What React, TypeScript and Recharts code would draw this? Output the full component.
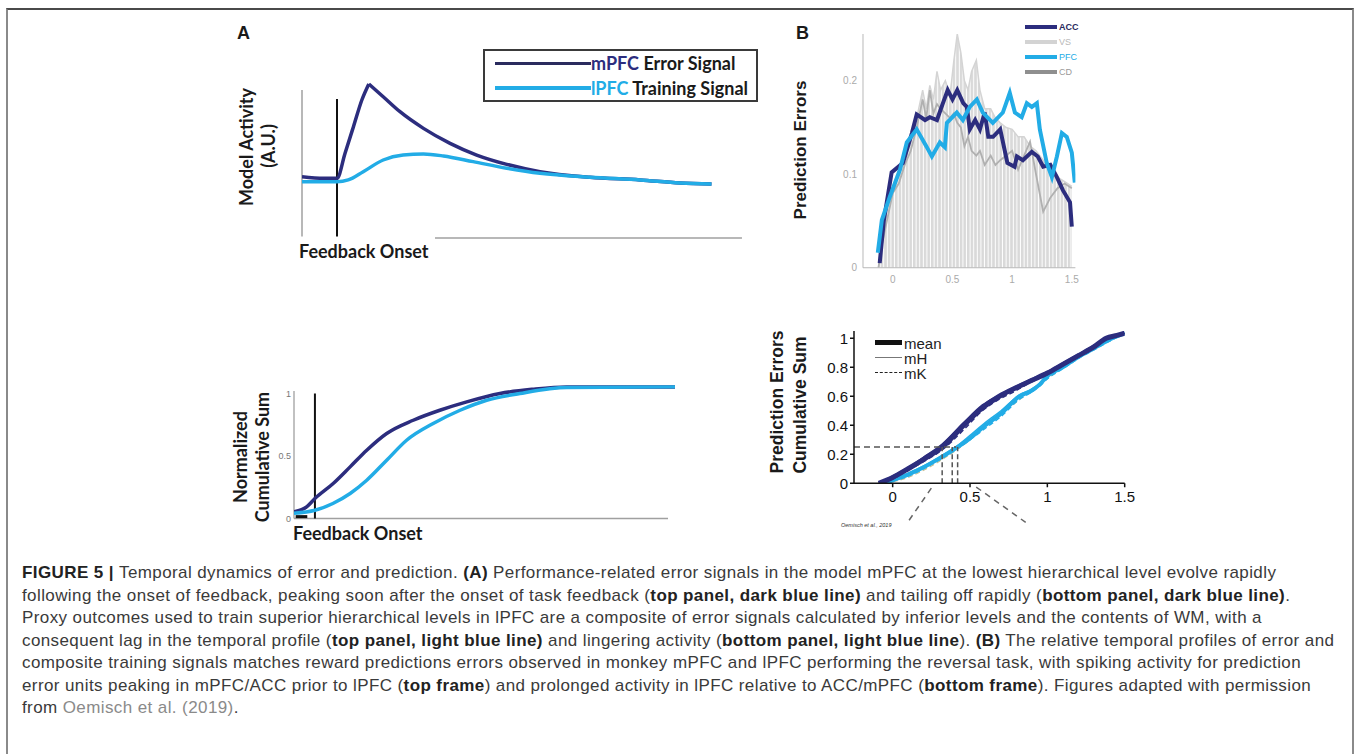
import React from 'react';
import { LineChart, ComposedChart, Line, Area, XAxis, YAxis, ReferenceLine } from 'recharts';

const NAVY = '#2c2d7e';
const SKY = '#22ace6';

// ---------- Panel A (top): model activity ----------
const A_TOP_MPFC_X = [-1, -0.38, 0, 0.23, 0.47, 0.71, 0.91, 1.32, 1.8, 2.47, 3.23, 3.99, 4.85, 5.8, 7.23, 8.66, 9.8, 10.7];
const A_TOP_MPFC = [0.409, 0.398, 0.398, 0.565, 0.742, 0.92, 1.027, 0.942, 0.842, 0.731, 0.631, 0.553, 0.491, 0.442, 0.405, 0.387, 0.367, 0.36];
const A_TOP_LPFC_X = [-1, 0, 0.32, 0.75, 1.32, 1.89, 2.47, 3.04, 3.89, 4.85, 5.8, 7.23, 8.66, 9.8, 10.7];
const A_TOP_LPFC = [0.375, 0.375, 0.387, 0.442, 0.52, 0.553, 0.56, 0.547, 0.509, 0.465, 0.431, 0.405, 0.387, 0.367, 0.36];

// ---------- Panel A (bottom): normalized cumulative sum ----------
const A_BOT_MPFC_X = [-0.6, -0.22, 0.03, 0.58, 1.09, 1.59, 2.19, 2.99, 3.79, 4.6, 5.6, 6.59, 7.61, 10.87];
const A_BOT_MPFC = [0.053, 0.093, 0.16, 0.28, 0.413, 0.546, 0.68, 0.786, 0.866, 0.933, 1.0, 1.034, 1.053, 1.053];
const A_BOT_LPFC_X = [-0.6, 0.03, 0.57, 1.09, 1.59, 2.19, 2.79, 3.59, 4.4, 5.2, 6.2, 7.61, 10.87];
const A_BOT_LPFC = [0.042, 0.066, 0.12, 0.2, 0.306, 0.466, 0.626, 0.76, 0.866, 0.946, 1.0, 1.048, 1.053];
const A_BOT_TICKS = [0, 0.5, 1];

// ---------- Panel B (top): prediction errors ----------
const B_TIME = [-0.12, -0.1, -0.05, 0, 0.05, 0.1, 0.15, 0.2, 0.25, 0.28, 0.31, 0.34, 0.37, 0.4, 0.44, 0.48, 0.51, 0.54, 0.57, 0.6, 0.63, 0.66, 0.7, 0.73, 0.77, 0.82, 0.86, 0.9, 0.95, 1.0, 1.05, 1.1, 1.15, 1.2, 1.26, 1.32, 1.38, 1.44, 1.5];
const B_VS = [0, 0.03, 0.06, 0.085, 0.1, 0.12, 0.14, 0.16, 0.19, 0.17, 0.195, 0.18, 0.21, 0.19, 0.2, 0.185, 0.22, 0.25, 0.23, 0.2, 0.19, 0.21, 0.222, 0.19, 0.17, 0.17, 0.16, 0.155, 0.15, 0.148, 0.14, 0.14, 0.13, 0.125, 0.115, 0.1, 0.097, 0.092, 0.087];
const B_CD = [0, 0.02, 0.05, 0.08, 0.09, 0.11, 0.125, 0.15, 0.18, 0.16, 0.19, 0.165, 0.175, 0.17, 0.165, 0.16, 0.165, 0.155, 0.15, 0.13, 0.14, 0.125, 0.12, 0.125, 0.11, 0.12, 0.11, 0.115, 0.12, 0.125, 0.105, 0.12, 0.135, 0.1, 0.06, 0.075, 0.085, 0.09, 0.085];
const B_ACC_X = [-0.11, -0.075, -0.01, 0.084, 0.16, 0.2, 0.27, 0.31, 0.37, 0.42, 0.46, 0.5, 0.54, 0.59, 0.62, 0.645, 0.69, 0.73, 0.77, 0.8, 0.84, 0.9, 0.96, 1.02, 1.04, 1.09, 1.165, 1.215, 1.26, 1.32, 1.375, 1.425, 1.485, 1.5];
const B_ACC = [0.005, 0.051, 0.102, 0.112, 0.144, 0.164, 0.158, 0.161, 0.158, 0.176, 0.19, 0.18, 0.19, 0.176, 0.172, 0.148, 0.158, 0.148, 0.166, 0.14, 0.14, 0.148, 0.112, 0.108, 0.119, 0.115, 0.124, 0.119, 0.108, 0.11, 0.097, 0.083, 0.07, 0.044];
const B_PFC_X = [-0.126, -0.092, -0.025, 0.06, 0.117, 0.2, 0.285, 0.327, 0.394, 0.436, 0.453, 0.536, 0.587, 0.645, 0.704, 0.754, 0.838, 0.922, 0.98, 1.023, 1.08, 1.123, 1.165, 1.207, 1.232, 1.29, 1.333, 1.375, 1.417, 1.458, 1.5, 1.525];
const B_PFC = [0.016, 0.051, 0.076, 0.105, 0.134, 0.148, 0.129, 0.119, 0.134, 0.129, 0.155, 0.166, 0.158, 0.172, 0.18, 0.166, 0.155, 0.166, 0.187, 0.166, 0.161, 0.176, 0.172, 0.176, 0.148, 0.112, 0.097, 0.119, 0.144, 0.14, 0.123, 0.091];
const B_TOP_XTICKS = [0, 0.5, 1, 1.5];
const B_TOP_YTICKS = [0, 0.1, 0.2];

// ---------- Panel B (bottom): cumulative prediction errors ----------
const B_ACC_CUM_X = [-0.09, 0, 0.1, 0.2, 0.32, 0.46, 0.58, 0.69, 0.8, 0.9, 1.0, 1.1, 1.2, 1.3, 1.38, 1.45, 1.5];
const B_ACC_CUM = [0, 0.04, 0.1, 0.165, 0.25, 0.4, 0.52, 0.6, 0.66, 0.71, 0.76, 0.82, 0.88, 0.94, 1.0, 1.02, 1.035];
const B_ACC_CUM_MH = [0, 0.05, 0.11, 0.18, 0.27, 0.42, 0.54, 0.61, 0.67, 0.72, 0.77, 0.83, 0.89, 0.95, 1.0, 1.02, 1.035];
const B_ACC_CUM_MK = [0, 0.03, 0.09, 0.15, 0.23, 0.37, 0.5, 0.58, 0.64, 0.7, 0.75, 0.81, 0.87, 0.93, 0.99, 1.02, 1.035];
const B_PFC_CUM_X = [-0.05, 0, 0.1, 0.2, 0.3, 0.42, 0.5, 0.6, 0.7, 0.82, 0.9, 0.95, 1.0, 1.1, 1.2, 1.3, 1.42, 1.5];
const B_PFC_CUM = [0, 0.02, 0.06, 0.11, 0.17, 0.25, 0.31, 0.4, 0.48, 0.6, 0.64, 0.68, 0.74, 0.8, 0.87, 0.93, 1.0, 1.035];
const B_PFC_CUM_MH = [0, 0.025, 0.07, 0.12, 0.18, 0.26, 0.33, 0.42, 0.5, 0.61, 0.65, 0.69, 0.75, 0.81, 0.88, 0.94, 1.0, 1.035];
const B_PFC_CUM_MK = [0, 0.015, 0.05, 0.1, 0.16, 0.24, 0.3, 0.38, 0.46, 0.58, 0.63, 0.67, 0.72, 0.79, 0.86, 0.92, 0.99, 1.035];
const B_OTHER_CUM_X = [-0.05, 0.1, 0.2, 0.3, 0.4, 0.5, 0.6, 0.7, 0.8, 0.9, 1.0, 1.1, 1.2];
const B_OTHER_CUM = [0, 0.04, 0.09, 0.15, 0.22, 0.3, 0.4, 0.48, 0.56, 0.64, 0.72, 0.8, 0.88];
const B_HALF_TIMES = [0.32, 0.385, 0.42];
const B_BOT_XTICKS = [0, 0.5, 1, 1.5];
const B_BOT_YTICKS = [0, 0.2, 0.4, 0.6, 0.8, 1];

type Seg = { t: string; b?: boolean; link?: boolean };
const CAPTION: Seg[][] = [
  [{ t: 'FIGURE 5 | ', b: true }, { t: 'Temporal dynamics of error and prediction. ' }, { t: '(A)', b: true }, { t: ' Performance-related error signals in the model mPFC at the lowest hierarchical level evolve rapidly' }],
  [{ t: 'following the onset of feedback, peaking soon after the onset of task feedback (' }, { t: 'top panel, dark blue line)', b: true }, { t: ' and tailing off rapidly (' }, { t: 'bottom panel, dark blue line)', b: true }, { t: '.' }],
  [{ t: 'Proxy outcomes used to train superior hierarchical levels in lPFC are a composite of error signals calculated by inferior levels and the contents of WM, with a' }],
  [{ t: 'consequent lag in the temporal profile (' }, { t: 'top panel, light blue line)', b: true }, { t: ' and lingering activity (' }, { t: 'bottom panel, light blue line', b: true }, { t: '). ' }, { t: '(B)', b: true }, { t: ' The relative temporal profiles of error and' }],
  [{ t: 'composite training signals matches reward predictions errors observed in monkey mPFC and lPFC performing the reversal task, with spiking activity for prediction' }],
  [{ t: 'error units peaking in mPFC/ACC prior to lPFC (' }, { t: 'top frame', b: true }, { t: ') and prolonged activity in lPFC relative to ACC/mPFC (' }, { t: 'bottom frame', b: true }, { t: '). Figures adapted with permission' }],
  [{ t: 'from ' }, { t: 'Oemisch et al. (2019)', link: true }, { t: '.' }],
];

const pts = (xs: number[], ys: number[]) => xs.map((x, i) => ({ x, y: ys[i] }));

const peakIdx = A_TOP_MPFC.indexOf(Math.max(...A_TOP_MPFC));
const aTopRise = pts(A_TOP_MPFC_X, A_TOP_MPFC).slice(0, peakIdx + 1);
const aTopFall = pts(A_TOP_MPFC_X, A_TOP_MPFC).slice(peakIdx);
const aTopL = pts(A_TOP_LPFC_X, A_TOP_LPFC);
const aBotM = pts(A_BOT_MPFC_X, A_BOT_MPFC);
const aBotL = pts(A_BOT_LPFC_X, A_BOT_LPFC);
const bTopData = B_TIME.map((x, i) => ({ x, vs: B_VS[i], cd: B_CD[i] }));
const bAcc = pts(B_ACC_X, B_ACC);
const bPfc = pts(B_PFC_X, B_PFC);

const LATO = 'Lato, "Open Sans", sans-serif';
const ARIAL = '"Liberation Sans", Arial, sans-serif';

const Rot = ({ cx, cy, text, size, font, weight = 700, color = '#1a1a1a' }: any) => (
  <div style={{ position: 'absolute', left: cx, top: cy, transform: 'translate(-50%, -50%) rotate(-90deg)', whiteSpace: 'nowrap', fontFamily: font, fontSize: size, fontWeight: weight, color, lineHeight: 1 }}>{text}</div>
);

const Txt = ({ x, cy, text, size, font, weight = 700, color = '#1a1a1a', italic = false }: any) => (
  <div style={{ position: 'absolute', left: x, top: cy, transform: 'translateY(-50%)', whiteSpace: 'nowrap', fontFamily: font, fontSize: size, fontWeight: weight, color, lineHeight: 1, fontStyle: italic ? 'italic' : 'normal' }}>{text}</div>
);

const Swatch = ({ x, cy, w, h, color, dashed = false }: any) => (
  <div style={{ position: 'absolute', left: x, top: cy - h / 2, width: w, height: dashed ? 0 : h, background: dashed ? 'transparent' : color, borderTop: dashed ? `${h}px dashed ${color}` : 'none' }} />
);

export default function App() {
  return (
    <div style={{ position: 'absolute', left: 0, top: 0, width: 1358, height: 754, background: '#fff', overflow: 'hidden', fontFamily: ARIAL }}>
      {/* frame */}
      <div style={{ position: 'absolute', left: 6, top: 8, width: 1348, height: 760, boxSizing: 'border-box', borderTop: '2px solid #4a4a4a', borderLeft: '2px solid #8a8a8a', borderRight: '2px solid #8a8a8a' }} />

      {/* ===== Panel A top ===== */}
      <Txt x={237} cy={33} text="A" size={18} font={ARIAL} />
      <Rot cx={246} cy={147} text="Model Activity" size={18} font={LATO} />
      <Rot cx={268} cy={146} text="(A.U.)" size={18} font={LATO} />
      <Txt x={299} cy={251} text="Feedback Onset" size={18} font={LATO} />
      <div style={{ position: 'absolute', left: 292, top: 63 }}>
        <LineChart width={461} height={185} margin={{ top: 10, right: 10, bottom: 10, left: 10 }}>
          <XAxis type="number" dataKey="x" domain={[-1, 11.6]} allowDataOverflow hide />
          <YAxis type="number" dataKey="y" domain={[0, 1.1]} allowDataOverflow hide />
          <ReferenceLine segment={[{ x: -1, y: 0.01 }, { x: -1, y: 0.987 }]} stroke="#a0a0a0" strokeWidth={1.5} />
          <ReferenceLine segment={[{ x: 2.8, y: 0 }, { x: 11.57, y: 0 }]} stroke="#a0a0a0" strokeWidth={1.5} />
          <ReferenceLine segment={[{ x: 0, y: 0.01 }, { x: 0, y: 0.927 }]} stroke="#111" strokeWidth={2} />
          <Line data={aTopRise} dataKey="y" type="monotone" stroke={NAVY} strokeWidth={3.5} dot={false} isAnimationActive={false} />
          <Line data={aTopFall} dataKey="y" type="monotone" stroke={NAVY} strokeWidth={3.5} dot={false} isAnimationActive={false} />
          <Line data={aTopL} dataKey="y" type="monotone" stroke={SKY} strokeWidth={3.5} dot={false} isAnimationActive={false} />
        </LineChart>
      </div>
      {/* legend A */}
      <div style={{ position: 'absolute', left: 483, top: 49, width: 275, height: 53, boxSizing: 'border-box', border: '2px solid #3a3a3a' }}>
        <Swatch x={10} cy={12} w={96} h={3} color="#2a2b5e" />
        <Swatch x={10} cy={37} w={96} h={3.5} color={SKY} />
        <Txt x={106} cy={12} size={18} font={LATO} text={<span><span style={{ color: NAVY }}>mPFC</span> Error Signal</span>} />
        <Txt x={106} cy={37} size={18} font={LATO} text={<span><span style={{ color: SKY }}>lPFC</span> Training Signal</span>} />
      </div>

      {/* ===== Panel A bottom ===== */}
      <Rot cx={240} cy={457} text="Normalized" size={18} font={LATO} />
      <Rot cx={262} cy={457} text="Cumulative Sum" size={18} font={LATO} />
      <Txt x={293} cy={533} text="Feedback Onset" size={18} font={LATO} />
      <div style={{ position: 'absolute', left: 264, top: 370.8 }}>
        <LineChart width={418} height={157.5} margin={{ top: 10, right: 6, bottom: 10, left: 0 }}>
          <XAxis type="number" dataKey="x" domain={[-0.6, 10.9]} allowDataOverflow hide />
          <YAxis type="number" dataKey="y" domain={[0, 1.1]} allowDataOverflow ticks={A_BOT_TICKS} width={30} axisLine={false} tickLine={false} tickSize={0} tickMargin={3} tick={{ fontSize: 9, fill: '#777', fontFamily: ARIAL }} />
          <ReferenceLine segment={[{ x: -0.6, y: 0 }, { x: -0.6, y: 1.02 }]} stroke="#a0a0a0" strokeWidth={1.3} />
          <ReferenceLine segment={[{ x: -0.6, y: 0 }, { x: 10.66, y: 0 }]} stroke="#a0a0a0" strokeWidth={1.3} />
          <ReferenceLine segment={[{ x: 0.03, y: 0 }, { x: 0.03, y: 1 }]} stroke="#111" strokeWidth={2} />
          <ReferenceLine segment={[{ x: -0.55, y: 0.015 }, { x: -0.2, y: 0.015 }]} stroke="#111" strokeWidth={3} />
          <Line data={aBotM} dataKey="y" type="monotone" stroke={NAVY} strokeWidth={3.5} dot={false} isAnimationActive={false} />
          <Line data={aBotL} dataKey="y" type="monotone" stroke={SKY} strokeWidth={3.5} dot={false} isAnimationActive={false} />
        </LineChart>
      </div>

      {/* ===== Panel B top ===== */}
      <Txt x={796} cy={33} text="B" size={18} font={ARIAL} />
      <Rot cx={800} cy={150} text="Prediction Errors" size={17} font={ARIAL} />
      <div style={{ position: 'absolute', left: 823.2, top: 24.25 }}>
        <ComposedChart width={264.4} height={265.75} margin={{ top: 10, right: 12, bottom: 0, left: 0 }} data={bTopData}>
          <defs>
            <pattern id="vsStripes" width="3.6" height="6" patternUnits="userSpaceOnUse">
              <rect x="0" y="0" width="2.6" height="6" fill="#d9d9d9" />
            </pattern>
          </defs>
          <XAxis type="number" dataKey="x" domain={[-0.25, 1.53]} allowDataOverflow ticks={B_TOP_XTICKS} height={22} stroke="#b8b8b8" tickLine={false} tickSize={0} tickMargin={8} tick={{ fontSize: 10, fill: '#aaa', fontFamily: ARIAL }} />
          <YAxis type="number" domain={[0, 0.25]} allowDataOverflow ticks={B_TOP_YTICKS} width={40} stroke="#b8b8b8" tickLine={false} tickSize={0} tickMargin={6} tick={{ fontSize: 10, fill: '#aaa', fontFamily: ARIAL }} />
          <Area dataKey="vs" type="linear" stroke="#d4d4d4" strokeWidth={1.5} fill="url(#vsStripes)" fillOpacity={1} isAnimationActive={false} />
          <Line dataKey="cd" type="linear" stroke="#b0b0b0" strokeWidth={1.8} dot={false} isAnimationActive={false} />
          <Line data={bAcc} dataKey="y" type="linear" stroke={NAVY} strokeWidth={4} dot={false} isAnimationActive={false} />
          <Line data={bPfc} dataKey="y" type="linear" stroke={SKY} strokeWidth={4} dot={false} isAnimationActive={false} />
        </ComposedChart>
      </div>
      {/* legend B top */}
      <Swatch x={1025} cy={26.7} w={32} h={4} color={NAVY} />
      <Swatch x={1025} cy={42.3} w={32} h={4} color="#d3d3d3" />
      <Swatch x={1025} cy={57.3} w={32} h={4} color={SKY} />
      <Swatch x={1025} cy={72.3} w={32} h={4} color="#8f8f8f" />
      <Txt x={1059} cy={26.7} text="ACC" size={9} font={ARIAL} color="#2a2b5e" />
      <Txt x={1059} cy={42.3} text="VS" size={9} font={ARIAL} weight={400} color="#b8b8b8" />
      <Txt x={1059} cy={57.3} text="PFC" size={9} font={ARIAL} weight={400} color={SKY} />
      <Txt x={1059} cy={72.3} text="CD" size={9} font={ARIAL} weight={400} color="#999" />

      {/* ===== Panel B bottom ===== */}
      <Rot cx={777.5} cy={402} text="Prediction Errors" size={17.5} font={ARIAL} />
      <Rot cx={801} cy={405} text="Cumulative Sum" size={17.5} font={ARIAL} />
      <div style={{ position: 'absolute', left: 814.3, top: 320.75 }}>
        <LineChart width={325.7} height={211.25} margin={{ top: 10, right: 15, bottom: 25, left: 0 }}>
          <XAxis type="number" dataKey="x" domain={[-0.25, 1.5]} allowDataOverflow ticks={B_BOT_XTICKS} height={24} stroke="#111" strokeWidth={1.5} tickSize={4} tickMargin={4} tick={{ fontSize: 15, fill: '#111', fontFamily: ARIAL }} />
          <YAxis type="number" dataKey="y" domain={[0, 1.05]} allowDataOverflow ticks={B_BOT_YTICKS} width={40} stroke="#111" strokeWidth={1.5} tickSize={4} tickMargin={2} tick={{ fontSize: 15, fill: '#111', fontFamily: ARIAL }} />
          <Line data={pts(B_OTHER_CUM_X, B_OTHER_CUM)} dataKey="y" type="monotone" stroke="#c6be93" strokeWidth={1.2} strokeDasharray="5 3" dot={false} isAnimationActive={false} />
          <Line data={pts(B_PFC_CUM_X, B_PFC_CUM_MK)} dataKey="y" type="monotone" stroke={SKY} strokeWidth={1.5} strokeDasharray="5 3" dot={false} isAnimationActive={false} />
          <Line data={pts(B_PFC_CUM_X, B_PFC_CUM_MH)} dataKey="y" type="monotone" stroke={SKY} strokeWidth={1.5} dot={false} isAnimationActive={false} />
          <Line data={pts(B_PFC_CUM_X, B_PFC_CUM)} dataKey="y" type="monotone" stroke={SKY} strokeWidth={4} dot={false} isAnimationActive={false} />
          <Line data={pts(B_ACC_CUM_X, B_ACC_CUM_MK)} dataKey="y" type="monotone" stroke={NAVY} strokeWidth={1.5} strokeDasharray="5 3" dot={false} isAnimationActive={false} />
          <Line data={pts(B_ACC_CUM_X, B_ACC_CUM_MH)} dataKey="y" type="monotone" stroke={NAVY} strokeWidth={1.5} dot={false} isAnimationActive={false} />
          <Line data={pts(B_ACC_CUM_X, B_ACC_CUM)} dataKey="y" type="monotone" stroke={NAVY} strokeWidth={5} dot={false} isAnimationActive={false} />
          <ReferenceLine segment={[{ x: -0.25, y: 0.25 }, { x: 0.41, y: 0.25 }]} stroke="#555" strokeWidth={1.5} strokeDasharray="6 4" />
          {B_HALF_TIMES.map((t) => (
            <ReferenceLine key={t} segment={[{ x: t, y: 0 }, { x: t, y: 0.25 }]} stroke="#555" strokeWidth={1.5} strokeDasharray="5 3" />
          ))}
          <ReferenceLine segment={[{ x: 0.25, y: -0.034 }, { x: 0.09, y: -0.28 }]} ifOverflow="visible" stroke="#666" strokeWidth={1.5} strokeDasharray="6 5" />
          <ReferenceLine segment={[{ x: 0.54, y: -0.026 }, { x: 0.86, y: -0.27 }]} ifOverflow="visible" stroke="#666" strokeWidth={1.5} strokeDasharray="6 5" />
        </LineChart>
      </div>
      {/* legend B bottom */}
      <Swatch x={875} cy={342.7} w={27} h={5} color="#111" />
      <Swatch x={875} cy={357.7} w={27} h={1.5} color="#777" />
      <Swatch x={875} cy={372.7} w={27} h={1.5} color="#222" dashed />
      <Txt x={904} cy={342.7} text="mean" size={15} font={ARIAL} weight={400} color="#222" />
      <Txt x={904} cy={357.7} text="mH" size={15} font={ARIAL} weight={400} color="#222" />
      <Txt x={904} cy={372.7} text="mK" size={15} font={ARIAL} weight={400} color="#222" />
      <Txt x={841} cy={526} text="Oemisch et al., 2019" size={5.5} font={ARIAL} weight={400} color="#333" italic />

      {/* ===== caption ===== */}
      <div style={{ position: 'absolute', left: 22, top: 562, fontFamily: ARIAL, fontSize: 17, letterSpacing: '0.4px', lineHeight: '22.5px', color: '#3a3a3a', whiteSpace: 'nowrap' }}>
        {CAPTION.map((line, i) => (
          <div key={i}>
            {line.map((s, j) => (
              <span key={j} style={{ fontWeight: s.b ? 700 : 400, color: s.b ? '#222' : s.link ? '#8a8a8a' : '#3a3a3a' }}>{s.t}</span>
            ))}
          </div>
        ))}
      </div>
    </div>
  );
}
